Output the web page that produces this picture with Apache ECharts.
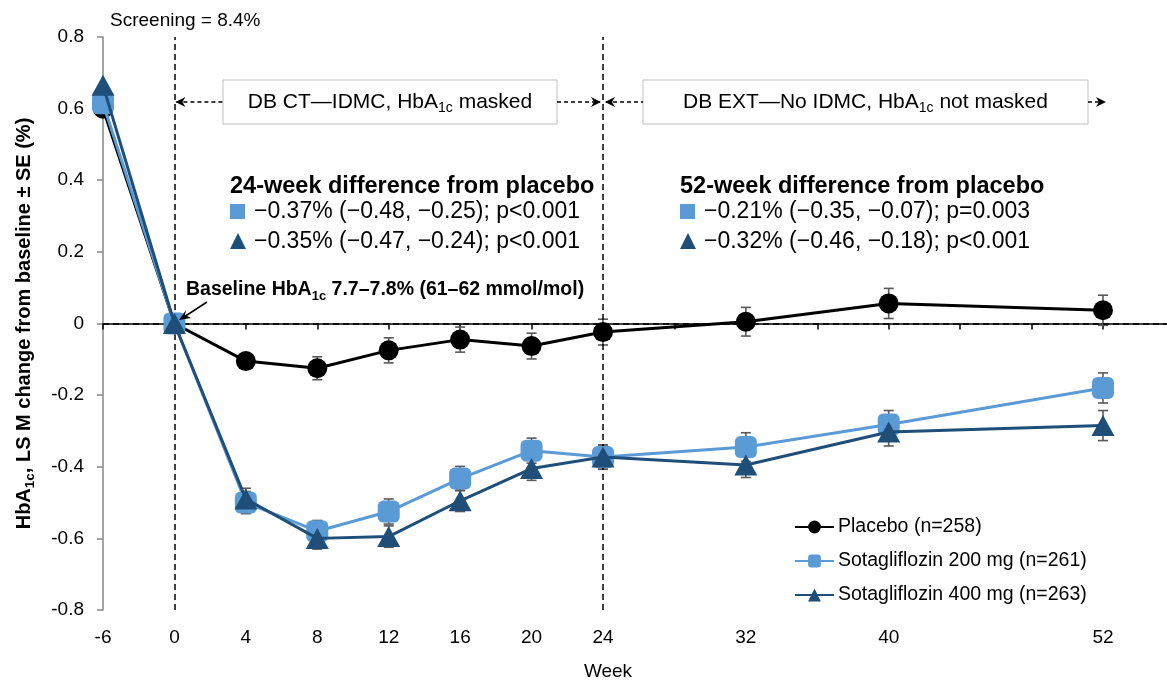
<!DOCTYPE html>
<html><head><meta charset="utf-8">
<script src="https://cdn.jsdelivr.net/npm/echarts@6/dist/echarts.min.js"></script>
<style>html,body{margin:0;padding:0;background:#fff}#c{width:1167px;height:682px}</style>
</head><body><div id="c"></div>
<script>
// ---- data ----
const weekCategories = ['-6','0','4','8','12','16','20','24','28','32','36','40','44','48','52',''];
const labeledWeeks = ['-6','0','4','8','12','16','20','24','32','40','52'];
const dataWeeks = ['-6','0','4','8','12','16','20','24','32','40','52'];
const placebo   = [0.60, 0, -0.105, -0.125, -0.075, -0.045, -0.063, -0.024, 0.005, 0.056, 0.037];
const placeboSE = [null, null, 0.02, 0.032, 0.035, 0.035, 0.036, 0.036, 0.04, 0.042, 0.042];
const sota200   = [0.615, 0, -0.50, -0.58, -0.525, -0.433, -0.355, -0.373, -0.345, -0.282, -0.18];
const sota200SE = [null, null, 0.031, 0.03, 0.035, 0.034, 0.035, 0.034, 0.04, 0.039, 0.042];
const sota400   = [0.665, 0, -0.49, -0.60, -0.595, -0.495, -0.405, -0.373, -0.395, -0.303, -0.285];
const sota400SE = [null, null, 0.03, 0.03, 0.03, 0.03, 0.033, 0.034, 0.035, 0.039, 0.042];
const seriesNames = ['Placebo (n=258)', 'Sotagliflozin 200 mg (n=261)', 'Sotagliflozin 400 mg (n=263)'];
const yMin = -0.8, yMax = 0.8, yStep = 0.2;

const FONT = '"Liberation Sans", Arial, sans-serif';
const C_PLA = '#000000', C_200 = '#5B9BD5', C_400 = '#1F4E79', C_ERR = '#595959';

function errSeries(vals, se, name) {
  const data = dataWeeks.map((w, i) => se[i] == null ? null : [w, vals[i] - se[i], vals[i] + se[i]]).filter(Boolean);
  return {
    type: 'custom', name: name + ' SE', data: data, encode: { x: 0, y: [1, 2] }, z: 3, silent: true,
    renderItem: (params, api) => {
      const x = api.value(0);
      const lo = api.coord([x, api.value(1)]);
      const hi = api.coord([x, api.value(2)]);
      const hw = 5;
      const st = { stroke: C_ERR, lineWidth: 1.6 };
      return { type: 'group', children: [
        { type: 'line', shape: { x1: lo[0], y1: lo[1], x2: hi[0], y2: hi[1] }, style: st },
        { type: 'line', shape: { x1: lo[0] - hw, y1: lo[1], x2: lo[0] + hw, y2: lo[1] }, style: st },
        { type: 'line', shape: { x1: hi[0] - hw, y1: hi[1], x2: hi[0] + hw, y2: hi[1] }, style: st }
      ]};
    }
  };
}
function lineSeries(name, vals, color, symbol, size, z) {
  return {
    type: 'line', name: name, data: dataWeeks.map((w, i) => [w, vals[i]]),
    symbol: symbol, symbolSize: size, z: z,
    itemStyle: { color: color, borderWidth: 0 },
    lineStyle: { color: color, width: 3 },
    emphasis: { disabled: true }
  };
}

const chart = echarts.init(document.getElementById('c'), null, { renderer: 'canvas' });
const sub = (fs, bold) => ({ fontSize: fs, fontWeight: bold ? 'bold' : 'normal', fontFamily: FONT, color: '#000', lineHeight: 14, verticalAlign: 'bottom' });
const main = (fs, bold) => ({ fontSize: fs, fontWeight: bold ? 'bold' : 'normal', fontFamily: FONT, color: '#000', lineHeight: fs + 6 });

const placeboS = lineSeries(seriesNames[0], placebo, C_PLA, 'circle', 20, 5);
placeboS.markLine = {
  silent: true, symbol: 'none', label: { show: false },
  lineStyle: { color: '#000', type: [6, 4], width: 1.5 },
  data: [{ xAxis: '0' }, { xAxis: '24' }, { yAxis: 0 }]
};

chart.setOption({
  animation: false,
  backgroundColor: '#fff',
  grid: { left: 103, top: 37, bottom: 72, width: 1071.4, containLabel: false, outerBoundsMode: 'none' },
  xAxis: {
    type: 'category', data: weekCategories, boundaryGap: false,
    axisLine: { lineStyle: { color: '#000', width: 1.5 } },
    axisTick: { show: true, length: 6, inside: false, alignWithLabel: true, interval: (i, v) => v !== '', lineStyle: { color: '#000', width: 1.5 } },
    axisLabel: { interval: 0, margin: 18, fontSize: 19, color: '#000', fontFamily: FONT,
      formatter: v => labeledWeeks.includes(v) ? v : '' },
    splitLine: { show: false }
  },
  yAxis: {
    type: 'value', min: yMin, max: yMax, interval: yStep,
    axisLine: { show: true, lineStyle: { color: '#868686', width: 1.5 } },
    axisTick: { show: true, length: 6, lineStyle: { color: '#868686', width: 1.5 } },
    axisLabel: { fontSize: 19, color: '#000', fontFamily: FONT, margin: 19, formatter: v => String(Math.round(v * 10) / 10) },
    splitLine: { show: false },
    name: '{b|HbA}{s|1c}{b|, LS M change from baseline ± SE (%)}',
    nameLocation: 'middle', nameRotate: 90, nameGap: 66,
    nameTextStyle: { rich: { b: main(20, true), s: sub(13.5, true) }, padding: [0, 0, 0, 0] }
  },
  legend: {
    data: seriesNames, orient: 'vertical', left: 789, top: 512, itemGap: 14,
    itemWidth: 39, itemHeight: 16,
    textStyle: { fontSize: 19.5, color: '#000', fontFamily: FONT, padding: [0, 0, 0, -1] }
  },
  series: [
    errSeries(placebo, placeboSE, seriesNames[0]),
    errSeries(sota200, sota200SE, seriesNames[1]),
    errSeries(sota400, sota400SE, seriesNames[2]),
    placeboS,
    lineSeries(seriesNames[1], sota200, C_200, 'roundRect', 22, 6),
    lineSeries(seriesNames[2], sota400, C_400, 'triangle', [23, 21], 7)
  ]
});

// ---- annotations (positioned from the axes) ----
const px = v => chart.convertToPixel({ xAxisIndex: 0 }, v);
const x0 = px('0'), x24 = px('24'), x52 = px('52');
const aY = 102;
const dash = { stroke: '#000', lineWidth: 1.3, lineDash: [4, 3] };
function arrowHead(x, y, dir) {
  return { type: 'polygon', shape: { points: [[x, y], [x - dir * 10, y - 5], [x - dir * 7, y], [x - dir * 10, y + 5]] }, style: { fill: '#000' }, z: 20 };
}
function hline(xa, xb, y) { return { type: 'line', shape: { x1: xa, y1: y, x2: xb, y2: y }, style: dash, z: 20 }; }
function txt(x, y, text, rich, align) {
  return { type: 'text', x: x, y: y, z: 30, style: { text: text, rich: rich, align: align || 'left', verticalAlign: 'middle' } };
}
const box1 = [223, 557], box2 = [643, 1088];
const g = [
  { type: 'rect', shape: { x: box1[0], y: 80, width: box1[1] - box1[0], height: 44 }, style: { fill: '#fff', stroke: '#bfbfbf', lineWidth: 1 }, z: 20 },
  { type: 'rect', shape: { x: box2[0], y: 80, width: box2[1] - box2[0], height: 44 }, style: { fill: '#fff', stroke: '#bfbfbf', lineWidth: 1 }, z: 20 },
  txt((box1[0] + box1[1]) / 2, aY, '{m|DB CT—IDMC, HbA}{s|1c}{m| masked}', { m: main(21, false), s: sub(14, false) }, 'center'),
  txt((box2[0] + box2[1]) / 2, aY, '{m|DB EXT—No IDMC, HbA}{s|1c}{m| not masked}', { m: main(21, false), s: sub(14, false) }, 'center'),
  hline(x0 + 2, box1[0], aY), arrowHead(x0 + 1, aY, -1),
  hline(box1[1], x24 - 3, aY), arrowHead(x24 - 2, aY, 1),
  hline(x24 + 3, box2[0], aY), arrowHead(x24 + 2, aY, -1),
  hline(box2[1], x52 + 1, aY), arrowHead(x52 + 3, aY, 1),
  txt(110, 21, '{m|Screening = 8.4%}', { m: main(19, false) }),
  txt(230, 187, '{h|24-week difference from placebo}', { h: main(23.5, true) }),
  txt(680, 187, '{h|52-week difference from placebo}', { h: main(23.5, true) }),
  { type: 'rect', shape: { x: 230, y: 204, width: 15, height: 15 }, style: { fill: C_200 }, z: 20 },
  { type: 'polygon', shape: { points: [[238, 233], [230, 249], [246, 249]] }, style: { fill: C_400 }, z: 20 },
  { type: 'rect', shape: { x: 680, y: 204, width: 15, height: 15 }, style: { fill: C_200 }, z: 20 },
  { type: 'polygon', shape: { points: [[688, 233], [680, 249], [696, 249]] }, style: { fill: C_400 }, z: 20 },
  txt(254, 212, '{m|−0.37% (−0.48, −0.25); p<0.001}', { m: main(23, false) }),
  txt(254, 242, '{m|−0.35% (−0.47, −0.24); p<0.001}', { m: main(23, false) }),
  txt(704, 212, '{m|−0.21% (−0.35, −0.07); p=0.003}', { m: main(23, false) }),
  txt(704, 242, '{m|−0.32% (−0.46, −0.18); p<0.001}', { m: main(23, false) }),
  txt(186, 290, '{b|Baseline HbA}{s|1c}{b| 7.7–7.8% (61–62 mmol/mol)}', { b: main(19.5, true), s: sub(13, true) }),
  { type: 'line', shape: { x1: 207, y1: 302, x2: 184, y2: 317 }, style: { stroke: '#000', lineWidth: 1.5 }, z: 20 },
  { type: 'polygon', shape: { points: [[179, 320], [186, 310], [185, 315], [191, 318]] }, style: { fill: '#000' }, z: 20 },
  txt(608, 672, '{m|Week}', { m: main(19, false) }, 'center')
];
chart.setOption({ graphic: g });
</script>
</body></html>
